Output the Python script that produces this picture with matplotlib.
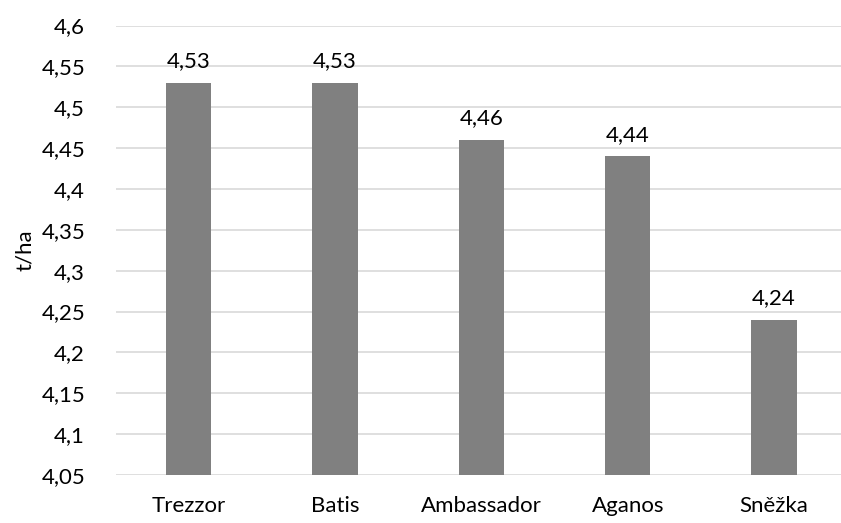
import matplotlib
matplotlib.use("Agg")
import matplotlib.pyplot as plt
from matplotlib.ticker import FuncFormatter

categories = ["Trezzor", "Batis", "Ambassador", "Aganos", "Sněžka"]
values = [4.53, 4.53, 4.46, 4.44, 4.24]
yticks = [4.05, 4.1, 4.15, 4.2, 4.25, 4.3, 4.35, 4.4, 4.45, 4.5, 4.55, 4.6]

plt.rcParams['font.family'] = ['Lato', 'DejaVu Sans']
fs = 16

fig = plt.figure(figsize=(8.41, 5.23), dpi=100)
ax = fig.add_axes([0.1375, 0.0918, 0.870, 0.8594])
x = list(range(len(categories)))
ax.bar(x, values, width=0.31, color="#808080", bottom=0, zorder=3)
ax.set_ylim(4.05, 4.6)
ax.set_xlim(-0.5, len(categories) - 0.5)
ax.set_yticks(yticks)
ax.yaxis.set_major_formatter(FuncFormatter(lambda v, p: f"{v:g}".replace(".", ",")))
ax.set_xticks(x)
ax.set_xticklabels(categories)
ax.grid(axis="y", color="#d9d9d9", linewidth=1.2, zorder=0)
for s in ax.spines.values():
    s.set_visible(False)
ax.tick_params(axis="both", length=0, labelsize=fs, colors="#000000")
ax.tick_params(axis="y", pad=22)
ax.tick_params(axis="x", pad=15)
for xi, v in zip(x, values):
    ax.text(xi, v + 0.014, f"{v:.2f}".replace(".", ","), ha="center", va="bottom", fontsize=fs)
ax.set_ylabel("t/ha", fontsize=fs)
ax.yaxis.set_label_coords(-0.11, 0.5)
fig.savefig("out.png", dpi=100)
